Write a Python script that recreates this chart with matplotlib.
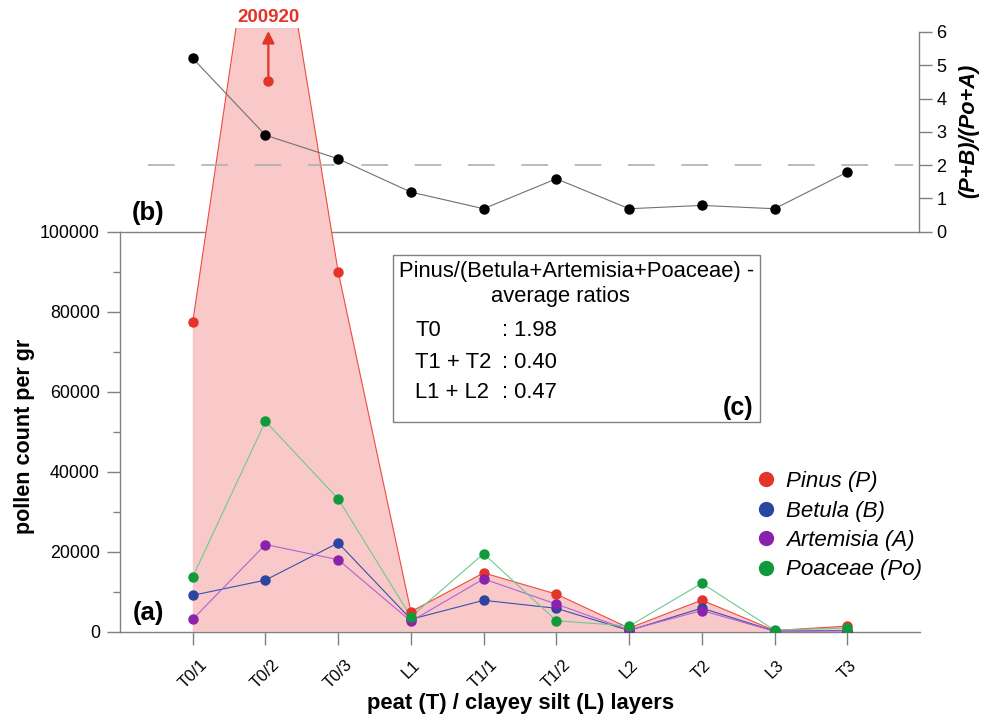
import matplotlib
matplotlib.use('Agg')
import matplotlib.pyplot as plt
import matplotlib.transforms as mtransforms
from matplotlib.lines import Line2D
from matplotlib.patches import Rectangle

plt.rcParams['font.family'] = ['Liberation Sans', 'DejaVu Sans']

# ---------------- data ----------------
layers = ['T0/1', 'T0/2', 'T0/3', 'L1', 'T1/1', 'T1/2', 'L2', 'T2', 'L3', 'T3']
pinus = [77400, 200920, 90000, 5000, 14700, 9400, 900, 7900, 300, 1400]
betula = [9100, 12900, 22200, 3100, 7850, 5850, 300, 5900, 150, 300]
artemisia = [3100, 21800, 18000, 2600, 13200, 6900, 400, 5300, 100, 200]
poaceae = [13700, 52600, 33200, 3750, 19500, 2750, 1400, 12100, 400, 900]
ratio_pb_poa = [5.21, 2.90, 2.19, 1.19, 0.69, 1.59, 0.69, 0.79, 0.69, 1.79]
ratio_threshold = 2
legend_labels = ['Pinus (P)', 'Betula (B)', 'Artemisia (A)', 'Poaceae (Po)']
box_title = 'Pinus/(Betula+Artemisia+Poaceae) -'
box_subtitle = 'average ratios'
box_groups = ['T0', 'T1 + T2', 'L1 + L2']
box_values = ['1.98', '0.40', '0.47']
yticks_main = [0, 20000, 40000, 60000, 80000, 100000]
yticks_minor = [10000, 30000, 50000, 70000, 90000]
yticks_ratio = [0, 1, 2, 3, 4, 5, 6]

# ---------------- style ----------------
W, H = 981, 718
red, blue, purple, green = '#E3342A', '#2C45A0', '#8A22AE', '#109A3C'
lred, lblue, lpurple, lgreen = '#F04A40', '#3A4FB0', '#B560D2', '#70C890'
fill_c = '#F9C9C9'
spine_c = '#808080'

fig = plt.figure(figsize=(W / 100, H / 100), dpi=100)

# main axes (a)
x0, x1 = 120, 920
yb, yt = 631.7, 28
ax = fig.add_axes([x0 / W, (H - yb) / H, (x1 - x0) / W, (yb - yt) / H])
xs = list(range(len(layers)))
ymax = (yb - yt) / (yb - 231.7) * 100000
ax.set_xlim(-1, 10)
ax.set_ylim(0, ymax)

ax.fill_between(xs, 0, pinus, color=fill_c, lw=0, zorder=1)
series = [(pinus, red, lred), (betula, blue, lblue),
          (artemisia, purple, lpurple), (poaceae, green, lgreen)]
for vals, mc, lc in series:
    ax.plot(xs, vals, color=lc, lw=0.8, zorder=2)
    ax.plot(xs, vals, ls='none', marker='o', ms=6.5, color=mc, mec=mc, zorder=3)

for s in ['top', 'right']:
    ax.spines[s].set_visible(False)
for s in ['left', 'bottom']:
    ax.spines[s].set_color(spine_c)
    ax.spines[s].set_linewidth(1.0)
ax.spines['left'].set_bounds(0, 100000)
ax.axhline(100000, color=spine_c, lw=1.0, zorder=0.5)

ax.set_yticks(yticks_main)
ax.set_yticks(yticks_minor, minor=True)
ax.set_yticklabels([str(v) for v in yticks_main], fontsize=12.8)
ax.tick_params(axis='y', which='major', length=9.5, width=1, color=spine_c, pad=5)
ax.tick_params(axis='y', which='minor', length=5, width=1, color=spine_c)
ax.set_xticks(xs)
ax.set_xticklabels(layers, rotation=45, ha='center', fontsize=12)
ax.tick_params(axis='x', length=9.5, width=1, color=spine_c, pad=9)

fig.text(25 / W, (H - 436) / H, 'pollen count per gr', rotation=90, ha='center',
         va='center', fontsize=15.5, fontweight='bold')
fig.text(521 / W, (H - 703) / H, 'peat (T) / clayey silt (L) layers', ha='center',
         va='center', fontsize=15.8, fontweight='bold')

ax.text(0.035, 0.031, '(a)', transform=ax.transAxes, fontsize=18.5, fontweight='bold',
        ha='center', va='center')
ax.text(0.035, 0.693, '(b)', transform=ax.transAxes, fontsize=18.5, fontweight='bold',
        ha='center', va='center')

# off-scale Pinus marker with arrow
trans = mtransforms.blended_transform_factory(ax.transData, ax.transAxes)
px = xs[1] + 0.04
ax.plot([px], [0.912], marker='o', ms=6.5, color=red, transform=trans, zorder=6, clip_on=False)
ax.annotate('', xy=(px, 0.995), xytext=(px, 0.912), xycoords=trans, textcoords=trans,
            arrowprops=dict(arrowstyle='-|>', color=red, lw=1.6, mutation_scale=18,
                            shrinkA=0, shrinkB=0), zorder=6, annotation_clip=False)
ax.text(px, 1.0166, str(pinus[1]), transform=trans, color=red, fontsize=13.5,
        fontweight='bold', ha='center', va='center', clip_on=False)

# legend
handles = [Line2D([], [], ls='none', marker='o', ms=10, color=c) for c in [red, blue, purple, green]]
leg = ax.legend(handles, legend_labels, loc='upper left', bbox_to_anchor=(0.794, 0.266),
                frameon=False, prop={'size': 16, 'style': 'italic'}, handlelength=1.0,
                handletextpad=0.4, labelspacing=0.38, borderpad=0, borderaxespad=0)

# box (c)
bx0, bx1, by0, by1 = 393, 760, 421.7, 255
def fx(px_):
    return (px_ - x0) / (x1 - x0)
def fy(py_):
    return (yb - py_) / (yb - yt)
ax.add_patch(Rectangle((fx(bx0), fy(by0)), fx(bx1) - fx(bx0), fy(by1) - fy(by0),
                       transform=ax.transAxes, facecolor='white', edgecolor=spine_c,
                       lw=1.0, zorder=7))
bfs = 15.8
ax.text(fx(576.5), fy(272), box_title, transform=ax.transAxes, fontsize=bfs,
        ha='center', va='center', zorder=8)
ax.text(fx(560), fy(297), box_subtitle, transform=ax.transAxes, fontsize=bfs,
        ha='center', va='center', zorder=8)
for i, (g, v) in enumerate(zip(box_groups, box_values)):
    yy = [330, 362, 393][i]
    ax.text(fx(415), fy(yy), g, transform=ax.transAxes, fontsize=bfs,
            ha='left', va='center', zorder=8)
    ax.text(fx(502), fy(yy), ': ' + v, transform=ax.transAxes, fontsize=bfs,
            ha='left', va='center', zorder=8)
ax.text(fx(753), fy(408), '(c)', transform=ax.transAxes, fontsize=18,
        fontweight='bold', ha='right', va='center', zorder=8)

# top panel (b)
ax2 = fig.add_axes([x0 / W, (H - 231.7) / H, (919 - x0) / W, (231.7 - 32) / H])
ax2.patch.set_visible(False)
ax2.set_xlim(-1, 10 - 1 / 800 * 11)
ax2.set_ylim(0, 6)
for s in ['top', 'left', 'bottom']:
    ax2.spines[s].set_visible(False)
ax2.spines['right'].set_color(spine_c)
ax2.spines['right'].set_linewidth(1.0)
ax2.yaxis.tick_right()
ax2.yaxis.set_label_position('right')
ax2.set_xticks([])
ax2.set_yticks(yticks_ratio)
ax2.set_yticklabels([str(v) for v in yticks_ratio], fontsize=13)
ax2.tick_params(axis='y', length=9.5, width=1, color=spine_c, pad=3)
ax2.axhline(ratio_threshold, xmin=(148 - x0) / 799, xmax=(913 - x0) / 799,
            color='#B0B0B0', lw=1.2, dashes=(16, 16), zorder=1)
ax2.plot(xs, ratio_pb_poa, color='#707070', lw=0.8, zorder=2)
ax2.plot(xs, ratio_pb_poa, ls='none', marker='o', ms=6.5, color='black', zorder=3)
fig.text(969 / W, (H - 131) / H, '(P+B)/(Po+A)', rotation=90, ha='center', va='center',
         fontsize=15.7, fontweight='bold', fontstyle='italic')

fig.savefig('out.png', dpi=100)
